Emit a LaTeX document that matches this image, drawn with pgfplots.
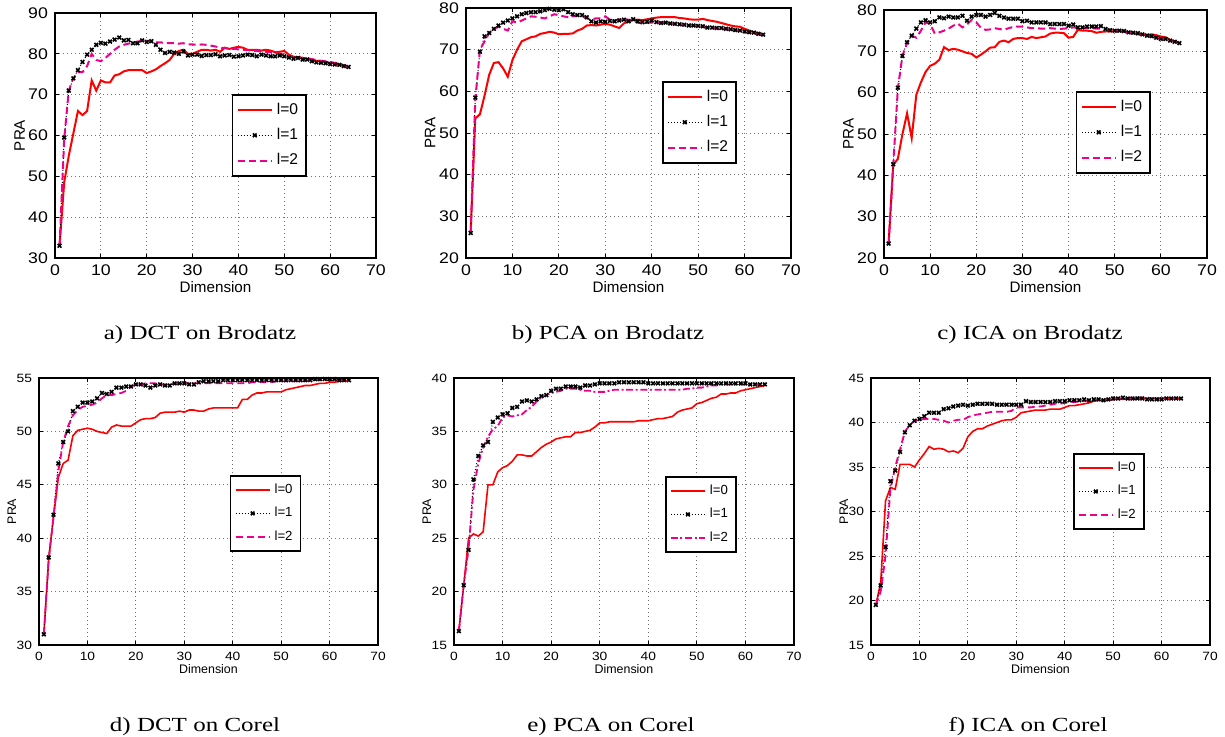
\documentclass[border=0pt]{standalone}
\usepackage{fontspec}
\usepackage{pgfplots}
\usepackage{pgfplotstable}
\pgfplotsset{compat=1.18}
\setmainfont{Liberation Serif}
\setsansfont{Liberation Sans}
\newfontfamily\topfont[FakeStretch=1.15]{Liberation Sans}
\newfontfamily\botfont[FakeStretch=1.15]{Liberation Sans}
\newfontfamily\capfont[FakeStretch=1.25]{Liberation Serif}

% DCT on Brodatz
\pgfplotstableread{
x l0 l1 l2
1 33 33 33
2 48.5 59.5 59
3 55 71 71
4 60.5 74 74
5 66 76 75.5
6 65 78 75.5
7 66 79.8 77
8 73.5 81 80
9 71 82.2 78.5
10 73.5 82.7 78.2
11 73 82.5 79
12 73 83 80
13 74.7 83.5 81
14 75 84 81.8
15 75.7 83.3 82.2
16 76 83.4 82.5
17 76 82.6 82.7
18 76 82.6 83
19 76 83.3 83.2
20 75.3 82.9 83.2
21 75.7 83.1 83
22 76.2 82.2 82.8
23 77 81 82.8
24 77.7 80.2 82.7
25 78.5 80.5 82.6
26 80 80.3 82.6
27 80.7 80 82.5
28 81 80.6 82.6
29 80 79.6 82.3
30 80 79.8 82.3
31 80.5 79.8 82.2
32 81 79.5 82.3
33 81 79.7 82.2
34 80.8 79.7 82
35 81 79.9 81.8
36 80.5 79.4 81.5
37 81.5 79.6 81.4
38 81.2 79.7 81.3
39 81.5 79.3 81.2
40 81.7 79.4 81.1
41 81.5 79.6 81
42 81 79.8 80.9
43 81 79.7 80.8
44 81 79.4 80.7
45 80.8 79.8 80.6
46 81 79.6 80.5
47 80.8 79.4 80.4
48 80.4 79.4 80.2
49 80.5 79.6 80
50 80.7 79.4 79.8
51 79.8 79.1 79.5
52 79.3 78.8 79.2
53 79.2 79 79.1
54 79 78.6 79
55 78.8 78.6 78.9
56 78.6 78.2 78.7
57 78.3 77.9 78.5
58 78.2 77.8 78.3
59 78 77.7 78.2
60 77.8 77.5 78
61 77.6 77.4 77.8
62 77.4 77.3 77.6
63 77 77 77.2
64 76.7 76.8 76.8
}\tabA

% PCA on Brodatz
\pgfplotstableread{
x l0 l1 l2
1 26 26 26
2 53.5 58.5 58
3 54.5 69.5 70
4 59 73.2 72
5 64 74 74
6 66.8 75 75
7 67 75.8 75.5
8 65.5 76.5 75
9 63.5 77 74.6
10 67.5 77.5 76.8
11 70 78 76.5
12 72 78.5 77
13 72.5 78.8 77.5
14 73 79 78
15 73.2 79 77.9
16 73.8 79.2 77.7
17 74 79.5 77.5
18 74.3 79.8 78
19 74.1 79.6 78.5
20 73.7 79.5 78.3
21 73.8 79.7 78
22 73.8 79 77.8
23 73.9 78.5 78
24 74.6 78.3 78.2
25 75 78.3 78
26 75.8 77.8 77.5
27 75.9 76.8 77.3
28 75.8 76.5 77.5
29 76 76.8 77.5
30 76.2 76.7 78
31 76 76.9 77.2
32 75.6 76.8 77
33 75.2 77 77.3
34 76.3 77.2 77.3
35 76.8 76.8 77.2
36 77.1 77.3 77
37 77.2 76.8 76.5
38 77.1 76.6 76.3
39 77.3 76.7 76.5
40 77.5 77 76.5
41 77.7 76.6 76.6
42 77.8 76.4 76.5
43 77.8 76.5 76.4
44 77.8 76.3 76.3
45 77.8 76.2 76.2
46 77.6 76.1 76
47 77.5 76 75.9
48 77.3 75.8 75.8
49 77.2 75.8 75.7
50 77.2 75.7 75.6
51 77.4 75.6 75.5
52 77.1 75.3 75.3
53 76.9 75.3 75.2
54 76.7 75.2 75.1
55 76.4 75.2 75
56 76.1 75 74.9
57 75.8 74.9 74.8
58 75.6 74.7 74.6
59 75.5 74.6 74.5
60 75 74.4 74.2
61 74.6 74.2 74
62 74.2 74.1 73.9
63 74 73.8 73.7
64 73.6 73.6 73.5
}\tabB

% ICA on Brodatz
\pgfplotstableread{
x l0 l1 l2
1 23.5 23.5 23.5
2 42.5 42.7 42.5
3 44 61.2 61
4 50 68.9 69
5 55 72.2 72
6 49 73.8 73.8
7 59.5 75.5 73.3
8 62.5 77 75
9 65 77.5 77
10 66.5 77 76.6
11 67 77.3 74.3
12 68 78.2 74.6
13 71 78 75
14 70.3 78.4 75.5
15 70.6 78.2 76.2
16 70.4 78.2 76.7
17 70 78.6 75.8
18 69.6 77.4 76.5
19 69.4 78.4 77.6
20 68.5 78.8 77
21 69.2 78.8 75.7
22 70 78.4 75.2
23 70.9 78.8 75.3
24 71 79.3 75.6
25 72.3 78.6 75.4
26 72.6 78.2 75.2
27 72.2 77.9 75.6
28 73 77.9 75.9
29 73.2 77.9 76
30 73.2 77.3 76
31 73 77.4 75.8
32 73.5 77 75.6
33 73.2 77 75.6
34 73.4 77 75.5
35 73.6 77 75.5
36 74.3 76.6 75.6
37 74.5 76.6 75.5
38 74.5 76.6 75.4
39 74.4 76.6 75.5
40 73.3 76.2 75.6
41 73.5 76.5 75.8
42 75.2 75.8 75.7
43 75 75.8 75.6
44 75 76 75.6
45 74.9 76 75.6
46 74.5 76 75.5
47 74.7 76.1 75.5
48 74.8 75.4 75.4
49 74.8 75.1 75.2
50 74.9 75 75
51 74.9 75 74.9
52 74.8 74.9 74.7
53 74.6 74.6 74.5
54 74.4 74.5 74.3
55 74.3 74.4 74.1
56 74.1 74.1 74
57 74 73.8 73.8
58 74.1 73.7 73.5
59 73.9 73.3 73.2
60 73.6 73 73
61 73.4 73 72.8
62 72.8 72.6 72.6
63 72.4 72.3 72.3
64 72 72 72
}\tabC

% DCT on Corel
\pgfplotstableread{
x l0 l1 l2
1 31 31 31
2 38 38.2 38
3 42 42.2 42
4 45.7 47 46.3
5 47 49 49
6 47.3 50 50.5
7 49.6 51.9 51.5
8 50.1 52.3 52
9 50.2 52.7 52.3
10 50.3 52.7 52.4
11 50.2 52.8 52.5
12 50 53.1 52.7
13 49.9 53.6 53.1
14 49.8 53.5 53.4
15 50.4 53.7 53.4
16 50.6 54.1 53.5
17 50.5 54.1 53.6
18 50.5 54.2 53.8
19 50.5 54.2 54.2
20 50.8 54.4 54.4
21 51.1 54.4 54.4
22 51.2 54.3 54.5
23 51.2 54.1 54.5
24 51.3 54.3 54.5
25 51.7 54.4 54.4
26 51.8 54.3 54.4
27 51.8 54.3 54.4
28 51.8 54.5 54.5
29 51.9 54.5 54.5
30 51.8 54.5 54.5
31 52 54.4 54.5
32 52 54.4 54.5
33 51.9 54.6 54.5
34 51.9 54.7 54.5
35 52.1 54.7 54.5
36 52.2 54.7 54.5
37 52.2 54.7 54.5
38 52.2 54.8 54.5
39 52.2 54.8 54.5
40 52.2 54.8 54.5
41 52.2 54.8 54.5
42 53 54.8 54.5
43 53 54.8 54.5
44 53.4 54.8 54.6
45 53.6 54.8 54.6
46 53.6 54.8 54.6
47 53.7 54.8 54.6
48 53.7 54.8 54.6
49 53.7 54.8 54.7
50 53.7 54.8 54.7
51 53.9 54.8 54.7
52 54 54.8 54.7
53 54.1 54.8 54.7
54 54.2 54.8 54.7
55 54.3 54.8 54.7
56 54.3 54.8 54.8
57 54.4 54.9 54.8
58 54.5 54.9 54.8
59 54.5 54.9 54.8
60 54.6 54.9 54.8
61 54.6 54.9 54.8
62 54.7 54.8 54.8
63 54.7 54.8 54.8
64 54.8 54.8 54.8
}\tabD

% PCA on Corel
\pgfplotstableread{
x l0 l1 l2
1 16.3 16.3 16.3
2 20.6 20.6 20.6
3 25 23.9 24
4 25.4 30.5 29.5
5 25.2 32.7 32
6 25.6 33.7 33.5
7 30 34 34.5
8 30 35.9 35.2
9 31.2 36.3 35.5
10 31.6 36.6 36.3
11 31.8 36.7 36.5
12 32.2 37.2 36.4
13 32.8 37.3 36.5
14 32.8 37.8 36.6
15 32.7 37.9 37
16 32.7 37.8 37.3
17 33.1 38 37.8
18 33.5 38.3 38.2
19 33.8 38.4 38.4
20 34 38.8 38.6
21 34.3 39 38.7
22 34.4 39 38.8
23 34.5 39.2 39
24 34.5 39.2 39
25 34.9 39.2 39
26 34.9 39.1 38.9
27 35 39.3 38.8
28 35.1 39.3 38.8
29 35.4 39.4 38.7
30 35.8 39.5 38.7
31 35.8 39.5 38.7
32 35.9 39.5 38.8
33 35.9 39.5 38.9
34 35.9 39.6 38.9
35 35.9 39.6 38.9
36 35.9 39.6 38.9
37 35.9 39.6 38.9
38 36 39.6 38.9
39 36 39.6 38.9
40 36 39.5 38.9
41 36.1 39.5 38.9
42 36.2 39.5 38.9
43 36.2 39.5 38.9
44 36.3 39.5 38.9
45 36.4 39.5 38.9
46 36.8 39.5 38.9
47 37 39.5 38.9
48 37.1 39.5 39
49 37.2 39.5 39
50 37.6 39.5 39.1
51 37.7 39.5 39.1
52 37.9 39.5 39.2
53 38.1 39.5 39.3
54 38.2 39.5 39.3
55 38.5 39.5 39.4
56 38.5 39.5 39.4
57 38.6 39.5 39.4
58 38.6 39.5 39.4
59 38.8 39.5 39.4
60 38.9 39.5 39.4
61 39 39.4 39.4
62 39.1 39.4 39.4
63 39.2 39.4 39.4
64 39.3 39.4 39.4
}\tabE

% ICA on Corel
\pgfplotstableread{
x l0 l1 l2
1 19.5 19.5 19.5
2 22 21.7 21
3 31.2 26 25
4 32.7 33.4 32.5
5 32.5 34.6 35
6 35.3 36.7 37
7 35.3 38.9 39
8 35.3 39.7 39.7
9 35 40.2 40.2
10 35.8 40.4 40.3
11 36.5 40.7 40.4
12 37.3 41.1 40.4
13 37 41.1 40.4
14 37.1 41.1 40.3
15 37 41.5 40.2
16 36.7 41.6 40
17 36.8 41.8 40.2
18 36.6 41.9 40.3
19 37.1 42 40.3
20 38.4 41.9 40.6
21 39 42 40.8
22 39.3 42.1 40.9
23 39.3 42.1 41
24 39.6 42.1 41.1
25 39.8 42.1 41.2
26 40 42 41.2
27 40.2 42 41.2
28 40.3 42 41.2
29 40.3 42 41.3
30 40.6 42 41.7
31 41.1 42 41.7
32 41.2 42.4 41.7
33 41.3 42.3 41.7
34 41.4 42.3 41.8
35 41.4 42.3 41.8
36 41.4 42.3 41.9
37 41.5 42.3 42
38 41.5 42.4 42.1
39 41.5 42.4 42.1
40 41.7 42.4 42.2
41 41.9 42.5 42.3
42 41.9 42.5 42.3
43 42 42.5 42.4
44 42.1 42.6 42.4
45 42.2 42.5 42.5
46 42.4 42.6 42.5
47 42.5 42.6 42.5
48 42.5 42.5 42.6
49 42.5 42.6 42.6
50 42.6 42.7 42.6
51 42.6 42.7 42.7
52 42.6 42.8 42.7
53 42.6 42.7 42.7
54 42.6 42.7 42.8
55 42.7 42.7 42.8
56 42.7 42.7 42.8
57 42.7 42.6 42.8
58 42.7 42.6 42.7
59 42.7 42.6 42.7
60 42.7 42.6 42.7
61 42.7 42.7 42.7
62 42.7 42.7 42.7
63 42.7 42.7 42.7
64 42.7 42.7 42.7
}\tabF

\pgfplotsset{
  pra/.style={
    scale only axis, anchor=south west,
    xmin=0, xmax=70, xtick={0,10,...,70},
    grid=major,
    grid style={line width=0.4pt, black!55, dash pattern=on 0.5pt off 1.5pt},
    tick align=inside, major tick length=2pt,
    tick style={black, line width=0.5pt},
    axis line style={line width=0.7pt},
    /pgf/number format/assume math mode=true,
    xlabel={Dimension}, ylabel={PRA},
    legend cell align=left,
    legend style={anchor=north west, draw=black, line width=0.8pt, fill=white,
      inner xsep=2pt, inner ysep=2pt, row sep=1.5pt},
  },
  toprow/.style={pra,
    tick label style={font=\topfont\fontsize{7.7}{8}\selectfont},
    label style={font=\sffamily\fontsize{7.6}{9}\selectfont},
    xlabel style={yshift=4pt},
    ylabel style={at={(axis description cs:-0.11,0.5)}, anchor=center},
    legend style={font=\sffamily\fontsize{7.8}{9}\selectfont},
  },
  botrow/.style={pra,
    tick label style={font=\botfont\fontsize{6}{7}\selectfont},
    label style={font=\sffamily\fontsize{6.2}{7}\selectfont},
    xlabel style={yshift=5pt},
    ylabel style={at={(axis description cs:-0.08,0.5)}, anchor=center},
    legend style={font=\sffamily\fontsize{6.6}{7}\selectfont, row sep=1.4pt},
  },
  l0/.style={red, line width=1pt},
  l1/.style={black, densely dotted, line width=0.5pt, mark=x, mark size=1.3pt,
    mark options={solid, line width=0.8pt}},
  l2/.style={magenta, line width=1pt, dash pattern=on 3.5pt off 2pt},
}

\begin{document}
\begin{tikzpicture}
\path[use as bounding box] (0,0) rectangle (612.5pt,368pt);

\begin{axis}[toprow, at={(27.5pt,239pt)}, width=160.5pt, height=122.5pt,
  ymin=30, ymax=90, ytick={30,40,...,90}, legend style={at={(0.551,0.669)}}]
\addplot[l0] table[x=x,y=l0]{\tabA}; \addlegendentry{l=0}
\addplot[l1] table[x=x,y=l1]{\tabA}; \addlegendentry{l=1}
\addplot[l2] table[x=x,y=l2]{\tabA}; \addlegendentry{l=2}
\end{axis}

\begin{axis}[toprow, at={(233pt,239pt)}, width=162.5pt, height=125pt,
  ymin=20, ymax=80, ytick={20,30,...,80}, legend style={at={(0.603,0.708)}}]
\addplot[l0] table[x=x,y=l0]{\tabB}; \addlegendentry{l=0}
\addplot[l1] table[x=x,y=l1]{\tabB}; \addlegendentry{l=1}
\addplot[l2] table[x=x,y=l2]{\tabB}; \addlegendentry{l=2}
\end{axis}

\begin{axis}[toprow, at={(442pt,239pt)}, width=161.5pt, height=124pt,
  ymin=20, ymax=80, ytick={20,30,...,80}, legend style={at={(0.594,0.673)}}]
\addplot[l0] table[x=x,y=l0]{\tabC}; \addlegendentry{l=0}
\addplot[l1] table[x=x,y=l1]{\tabC}; \addlegendentry{l=1}
\addplot[l2] table[x=x,y=l2]{\tabC}; \addlegendentry{l=2}
\end{axis}

\begin{axis}[botrow, at={(19.5pt,45.5pt)}, width=169.5pt, height=133.5pt,
  ymin=30, ymax=55, ytick={30,35,...,55}, legend style={at={(0.563,0.637)}}]
\addplot[l0, line width=0.8pt] table[x=x,y=l0]{\tabD}; \addlegendentry{l=0}
\addplot[l1] table[x=x,y=l1]{\tabD}; \addlegendentry{l=1}
\addplot[l2, line width=0.9pt] table[x=x,y=l2]{\tabD}; \addlegendentry{l=2}
\end{axis}

\begin{axis}[botrow, at={(227pt,45.5pt)}, width=170pt, height=133.5pt,
  ymin=15, ymax=40, ytick={15,20,...,40}, legend style={at={(0.621,0.633)}}]
\addplot[l0, line width=0.8pt] table[x=x,y=l0]{\tabE}; \addlegendentry{l=0}
\addplot[l1] table[x=x,y=l1]{\tabE}; \addlegendentry{l=1}
\addplot[l2, line width=0.9pt, dash pattern=on 3.5pt off 1.3pt on 1pt off 1.3pt] table[x=x,y=l2]{\tabE}; \addlegendentry{l=2}
\end{axis}

\begin{axis}[botrow, at={(435.5pt,45.5pt)}, width=169.5pt, height=133.5pt,
  ymin=15, ymax=45, ytick={15,20,...,45}, legend style={at={(0.596,0.719)}}]
\addplot[l0, line width=0.8pt] table[x=x,y=l0]{\tabF}; \addlegendentry{l=0}
\addplot[l1] table[x=x,y=l1]{\tabF}; \addlegendentry{l=1}
\addplot[l2, line width=0.9pt] table[x=x,y=l2]{\tabF}; \addlegendentry{l=2}
\end{axis}

\begin{scope}[every node/.style={anchor=base, font=\capfont\fontsize{10}{12}\selectfont}]
\node at (100pt,198.5pt) {a) DCT on Brodatz};
\node at (304pt,198.5pt) {b) PCA on Brodatz};
\node at (515pt,198.5pt) {c) ICA on Brodatz};
\node at (97.5pt,2.5pt) {d) DCT on Corel};
\node at (305.5pt,2.5pt) {e) PCA on Corel};
\node at (514pt,2.5pt) {f) ICA on Corel};
\end{scope}
\end{tikzpicture}
\end{document}
